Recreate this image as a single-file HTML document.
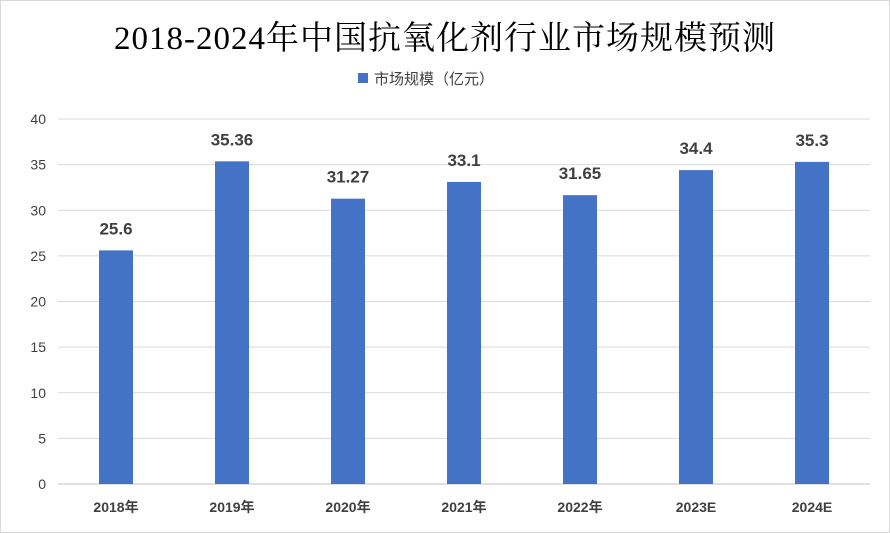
<!DOCTYPE html>
<html><head><meta charset="utf-8"><style>
body{margin:0;background:#fff;}
svg{display:block;font-family:"Liberation Sans","Noto Sans CJK SC",sans-serif;}
</style></head><body>
<svg id="chart" width="890" height="533">
<rect x="0.5" y="0.5" width="889" height="532" fill="#fff" stroke="#d9d9d9"/>
<text x="445" y="49" text-anchor="middle" font-family="'Liberation Serif','Noto Serif CJK SC',serif" font-size="33" letter-spacing="1" fill="#000">2018-2024年中国抗氧化剂行业市场规模预测</text>
<g>
<rect x="358" y="73" width="10" height="10" fill="#4472c4"/>
<text x="374" y="84" font-size="15" fill="#404040">市场规模（亿元）</text>
</g>
<g id="grid"></g><g id="bars"></g><g id="labels"></g>
</svg>
<script>
const categories=["2018年","2019年","2020年","2021年","2022年","2023E","2024E"];
const values=[25.6,35.36,31.27,33.1,31.65,34.4,35.3];
const valueLabels=["25.6","35.36","31.27","33.1","31.65","34.4","35.3"];
const yTicks=[0,5,10,15,20,25,30,35,40];
const NS="http://www.w3.org/2000/svg";
const x0=58,x1=870,yBase=484,yTop=119,yMax=40;
const y=v=>yBase-(v/yMax)*(yBase-yTop);
const band=(x1-x0)/categories.length;
const xc=i=>x0+band*(i+0.5);
function mk(tag,attrs,parent,text){const e=document.createElementNS(NS,tag);for(const k in attrs)e.setAttribute(k,attrs[k]);if(text!==undefined)e.textContent=text;document.getElementById(parent).appendChild(e);return e;}
yTicks.forEach(t=>{
 const l=mk("line",{x1:x0,x2:x1,y1:y(t),y2:y(t),stroke:t===0?"#bfbfbf":"#d9d9d9","stroke-width":1},"grid");
 
 
 const tx=mk("text",{x:46,y:y(t)+5,"text-anchor":"end","font-size":14,fill:"#404040"},"grid",String(t));
 
 
});
categories.forEach((c,i)=>{
 const b=mk("rect",{x:xc(i)-17,y:y(values[i]),width:34,height:yBase-y(values[i]),fill:"#4472c4"},"bars");
 
 
 const v=mk("text",{x:xc(i),y:y(values[i])-16,"text-anchor":"middle","font-size":17,"font-weight":"bold",fill:"#404040"},"labels",valueLabels[i]);
 
 
 const cl=mk("text",{x:xc(i),y:512,"text-anchor":"middle","font-size":14,"font-weight":"bold",fill:"#404040"},"labels",c);
 
 
});
</script>
</body></html>
